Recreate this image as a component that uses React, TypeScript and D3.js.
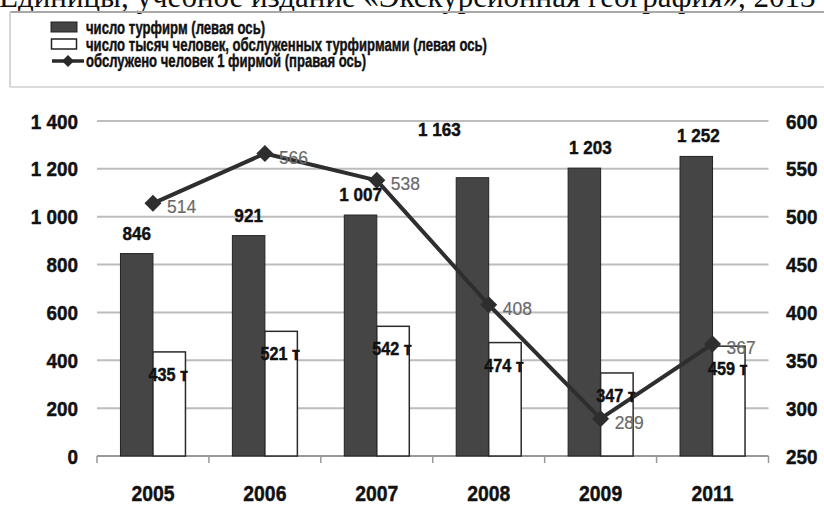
import React from "react";
import * as d3 from "d3";

const years = ["2005", "2006", "2007", "2008", "2009", "2011"];
const firms = [846, 921, 1007, 1163, 1203, 1252];
const served = [435, 521, 542, 474, 347, 459];
const perFirm = [514, 566, 538, 408, 289, 367];
const leftTicks = [0, 200, 400, 600, 800, 1000, 1200, 1400];
const rightTicks = [250, 300, 350, 400, 450, 500, 550, 600];
const legendLabels = [
  "число турфирм (левая ось)",
  "число тысяч человек, обслуженных турфирмами (левая ось)",
  "обслужено человек 1 фирмой (правая ось)",
];
const headerText = "Единицы, учебное издание «Экскурсионная география», 2013";

const W = 824;
const H = 505;
const SANS = "'Liberation Sans', Arial, sans-serif";

const fmt = (v: number) => {
  const s = String(v);
  return s.length > 3 ? s.slice(0, s.length - 3) + " " + s.slice(-3) : s;
};

type NProps = {
  x: number;
  y: number;
  size: number;
  sx?: number;
  anchor?: "start" | "middle" | "end";
  bold?: boolean;
  fill?: string;
  children: React.ReactNode;
};

function NText({ x, y, size, sx = 0.85, anchor = "start", bold = true, fill = "#111", children }: NProps) {
  return (
    <text
      transform={`translate(${x},${y}) scale(${sx},1)`}
      textAnchor={anchor}
      fontFamily={SANS}
      fontWeight={bold ? "bold" : "normal"}
      fontSize={size}
      fill={fill}
      stroke={fill}
      strokeWidth={bold ? 0.45 : 0.2}
    >
      {children}
    </text>
  );
}

export default function App() {
  const x0 = 97, x1 = 768.5, yTop = 121, yBot = 456;
  const x = d3.scaleBand<string>().domain(years).range([x0, x1]).paddingInner(0).paddingOuter(0);
  const yL = d3.scaleLinear().domain([0, 1400]).range([yBot, yTop]);
  const yR = d3.scaleLinear().domain([250, 600]).range([yBot, yTop]);
  const bw = x.bandwidth();
  const barW = 32.5;
  const pad = (bw - 2 * barW) / 2;

  const line = d3
    .line<number>()
    .x((_, i) => x(years[i])! + bw / 2)
    .y((d) => yR(d));

  // label offsets for the bar-top labels (one label was moved off the line in the source)
  const darkShift: [number, number][] = [
    [0, 0], [0, 0], [0, 0], [-33, -28], [6, 0], [2, 0],
  ];

  const diamond = (cx: number, cy: number, r: number) =>
    `M${cx},${cy - r}L${cx + r},${cy}L${cx},${cy + r}L${cx - r},${cy}Z`;

  return (
    <svg
      width={W}
      height={H}
      style={{ position: "absolute", left: 0, top: 0, background: "#fff" }}
    >
      <rect x={0} y={0} width={W} height={H} fill="#fff" />
      {/* cut-off header line */}
      <text x={-1} y={7} fontFamily="'Liberation Serif', 'Times New Roman', serif" fontSize={31} fill="#111">
        {headerText}
      </text>

      {/* legend box */}
      <line x1={10} x2={W} y1={12} y2={12} stroke="#a8a8a8" strokeWidth={2} />
      <line x1={10} x2={10} y1={12} y2={87} stroke="#c8c8c8" strokeWidth={1.5} />
      <line x1={10} x2={W} y1={87} y2={87} stroke="#d0d0d0" strokeWidth={1.5} />
      <rect x={51} y={22} width={26} height={10} fill="#444" stroke="#222" strokeWidth={1} />
      <rect x={51.5} y={39} width={25} height={10} fill="#fff" stroke="#222" strokeWidth={1.5} />
      <line x1={52} x2={84} y1={61} y2={61} stroke="#2a2a2a" strokeWidth={3.5} />
      <path d={diamond(68, 61, 6)} fill="#2a2a2a" />
      {legendLabels.map((t, i) => (
        <NText key={t} x={86} y={34 + i * 16.5} size={19} sx={0.69}>
          {t}
        </NText>
      ))}

      {/* gridlines */}
      {leftTicks.slice(1).map((t) => (
        <line key={t} x1={x0} x2={x1} y1={yL(t)} y2={yL(t)} stroke="#bdbdbd" strokeWidth={2} />
      ))}
      {/* axis */}
      <line x1={x0} x2={x1} y1={yBot} y2={yBot} stroke="#999" strokeWidth={2} />
      {d3.range(years.length + 1).map((i) => {
        const xx = i < years.length ? x(years[i])! : x1;
        return <line key={i} x1={xx} x2={xx} y1={yBot} y2={yBot + 7} stroke="#999" strokeWidth={1.5} />;
      })}

      {/* left tick labels */}
      {leftTicks.map((t) => (
        <NText key={t} x={78} y={yL(t) + 7.5} size={21} sx={0.9} anchor="end">
          {fmt(t)}
        </NText>
      ))}
      {/* right tick labels */}
      {rightTicks.map((t) => (
        <NText key={t} x={786} y={yR(t) + 7.5} size={21} sx={0.9}>
          {t}
        </NText>
      ))}
      {/* x labels */}
      {years.map((yr) => (
        <NText key={yr} x={x(yr)! + bw / 2} y={501} size={22} sx={0.88} anchor="middle">
          {yr}
        </NText>
      ))}

      {/* bars */}
      {years.map((yr, i) => (
        <g key={yr}>
          <rect
            x={x(yr)! + pad}
            y={yL(firms[i])}
            width={barW}
            height={yBot - yL(firms[i])}
            fill="#454545"
            stroke="#222"
            strokeWidth={1}
          />
          <rect
            x={x(yr)! + pad + barW}
            y={yL(served[i])}
            width={barW}
            height={yBot - yL(served[i])}
            fill="#fff"
            stroke="#2a2a2a"
            strokeWidth={1.5}
          />
        </g>
      ))}

      {/* line */}
      <path d={line(perFirm) ?? ""} fill="none" stroke="#2e2e2e" strokeWidth={4} strokeLinejoin="round" />
      {perFirm.map((v, i) => (
        <path key={i} d={diamond(x(years[i])! + bw / 2, yR(v), 8.5)} fill="#2e2e2e" />
      ))}

      {/* bar value labels */}
      {years.map((yr, i) => (
        <g key={"l" + yr}>
          <NText
            x={x(yr)! + pad + barW / 2 + darkShift[i][0]}
            y={yL(firms[i]) - 14 + darkShift[i][1]}
            size={19}
            sx={0.9}
            anchor="middle"
          >
            {fmt(firms[i])}
          </NText>
          <NText
            x={x(yr)! + pad + barW * 1.5 - 1}
            y={yL(served[i]) + 29}
            size={18}
            sx={0.9}
            anchor="middle"
          >
            {served[i] + " т"}
          </NText>
        </g>
      ))}
      {/* line value labels */}
      {perFirm.map((v, i) => (
        <NText
          key={"p" + i}
          x={x(years[i])! + bw / 2 + 14}
          y={yR(v) + 10}
          size={19}
          sx={0.92}
          bold={false}
          fill="#6a6a6a"
        >
          {v}
        </NText>
      ))}
    </svg>
  );
}
